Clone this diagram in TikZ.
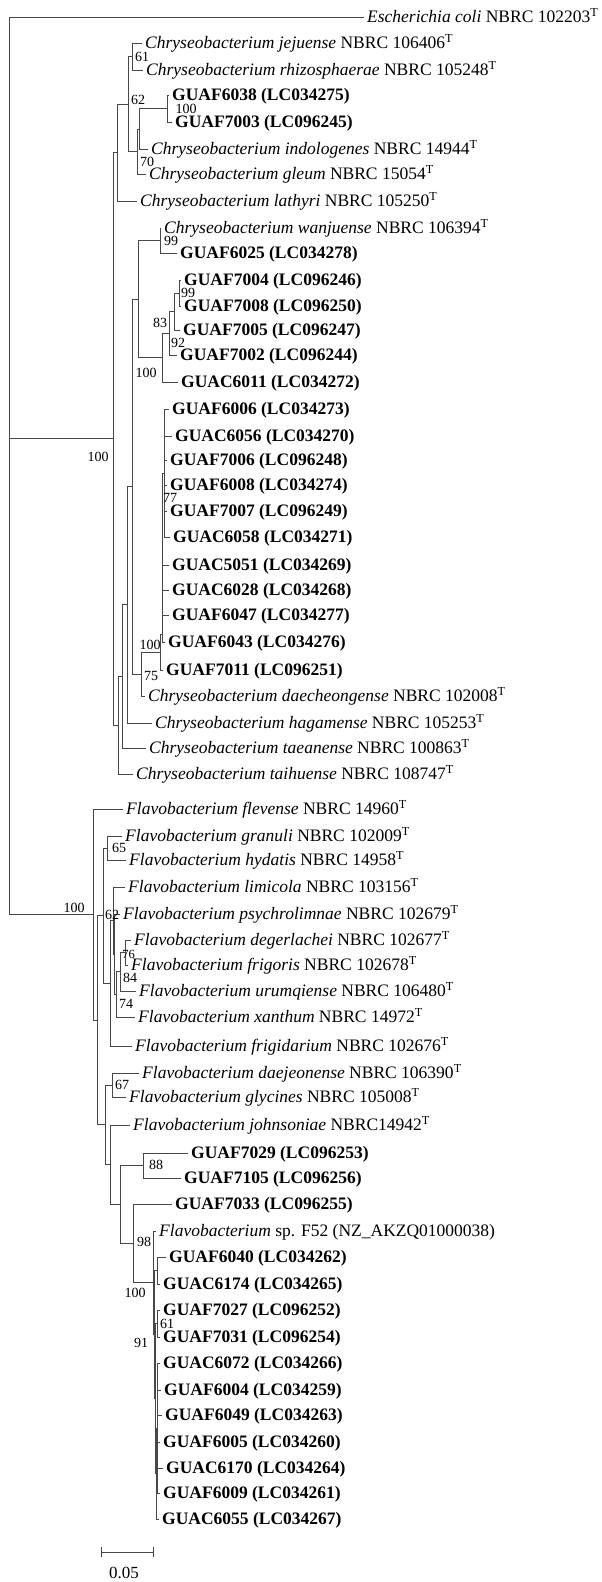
\documentclass[tikz,border=0pt]{standalone}
\usepackage{fontspec}
\setmainfont{Liberation Serif}
\newcommand\leafx[5]{%
  \coordinate (t#1) at (#3,#4);
  \node[lab] (l#1) at (t#1) {#5};
  \draw[br] (#2) |- (t#1);}
\newcommand\spn[1]{\textit{#1}}
\begin{document}
\begin{tikzpicture}[x=1pt,y=-1pt,
  br/.style={line width=0.9pt, draw=black!72},
  lab/.style={anchor=west, xshift=3pt, inner sep=0pt, font=\fontsize{17.5}{20}\selectfont, text height=12pt, text depth=1pt},
  bs/.style={inner sep=0pt, font=\fontsize{14}{16}\selectfont, text height=9.5pt, text depth=0pt}]
\useasboundingbox (0,0) rectangle (602,1582);
% root
\coordinate (R) at (9,466);
\leafx{ecoli}{R}{364}{17}{\spn{Escherichia coli} NBRC 102203\textsuperscript{T}}
\coordinate (C) at (113,438.8); \draw[br] (R) |- (C);
\coordinate (F) at (93,914.6); \draw[br] (R) |- (F);
% Chryseobacterium
\coordinate (C1) at (117,152.5); \draw[br] (C) |- (C1);
\coordinate (N62) at (128,104); \draw[br] (C1) |- (N62);
\coordinate (N61) at (132,56.5); \draw[br] (N62) |- (N61);
\leafx{jej}{N61}{142}{43}{\spn{Chryseobacterium jejuense} NBRC 106406\textsuperscript{T}}
\leafx{rhi}{N61}{143}{70}{\spn{Chryseobacterium rhizosphaerae} NBRC 105248\textsuperscript{T}}
\coordinate (Ng) at (137,151.5); \draw[br] (N62) |- (Ng);
\coordinate (Np) at (139,129); \draw[br] (Ng) |- (Np);
\coordinate (N100g) at (167,108.5); \draw[br] (Np) |- (N100g);
\leafx{g6038}{N100g}{169}{95}{\textbf{GUAF6038 (LC034275)}}
\leafx{g7003}{N100g}{172}{122}{\textbf{GUAF7003 (LC096245)}}
\leafx{ind}{Np}{148}{149}{\spn{Chryseobacterium indologenes} NBRC 14944\textsuperscript{T}}
\leafx{gle}{Ng}{146}{174}{\spn{Chryseobacterium gleum} NBRC 15054\textsuperscript{T}}
\leafx{lat}{C1}{137}{201}{\spn{Chryseobacterium lathyri} NBRC 105250\textsuperscript{T}}
\coordinate (T) at (118,725.2); \draw[br] (C) |- (T);
\coordinate (U) at (122,676.4); \draw[br] (T) |- (U);
\leafx{tai}{T}{133}{774}{\spn{Chryseobacterium taihuense} NBRC 108747\textsuperscript{T}}
\coordinate (Z) at (127,604.75); \draw[br] (U) |- (Z);
\leafx{tae}{U}{146}{748}{\spn{Chryseobacterium taeanense} NBRC 100863\textsuperscript{T}}
\coordinate (Y) at (132,486.5); \draw[br] (Z) |- (Y);
\leafx{hag}{Z}{152}{723}{\spn{Chryseobacterium hagamense} NBRC 105253\textsuperscript{T}}
\coordinate (X) at (138,299); \draw[br] (Y) |- (X);
\coordinate (V) at (141,674); \draw[br] (Y) |- (V);
\leafx{dae}{V}{145}{696}{\spn{Chryseobacterium daecheongense} NBRC 102008\textsuperscript{T}}
\coordinate (B) at (160,652); \draw[br] (V) |- (B);
\coordinate (Bp) at (162,634); \draw[br] (B) |- (Bp);
\leafx{g7011}{B}{163}{670}{\textbf{GUAF7011 (LC096251)}}
\coordinate (N77) at (164,473); \draw[br] (Bp) |- (N77);
\leafx{g6006}{N77}{169}{409}{\textbf{GUAF6006 (LC034273)}}
\leafx{c6056}{N77}{172}{436}{\textbf{GUAC6056 (LC034270)}}
\leafx{g7006}{N77}{167}{460}{\textbf{GUAF7006 (LC096248)}}
\leafx{g6008}{N77}{167}{485}{\textbf{GUAF6008 (LC034274)}}
\leafx{g7007}{N77}{167}{511}{\textbf{GUAF7007 (LC096249)}}
\leafx{c6058}{N77}{170}{537}{\textbf{GUAC6058 (LC034271)}}
\leafx{c5051}{Bp}{169}{565}{\textbf{GUAC5051 (LC034269)}}
\leafx{c6028}{Bp}{169}{590}{\textbf{GUAC6028 (LC034268)}}
\leafx{g6047}{Bp}{169}{615}{\textbf{GUAF6047 (LC034277)}}
\leafx{g6043}{Bp}{165}{642}{\textbf{GUAF6043 (LC034276)}}
\coordinate (W) at (160,240.5); \draw[br] (X) |- (W);
\leafx{wan}{W}{161}{228}{\spn{Chryseobacterium wanjuense} NBRC 106394\textsuperscript{T}}
\leafx{g6025}{W}{177}{253}{\textbf{GUAF6025 (LC034278)}}
\coordinate (N100b) at (162,357.6); \draw[br] (X) |- (N100b);
\coordinate (N83) at (169,333.25); \draw[br] (N100b) |- (N83);
\leafx{c6011}{N100b}{178}{382}{\textbf{GUAC6011 (LC034272)}}
\coordinate (N92) at (174,311.5); \draw[br] (N83) |- (N92);
\leafx{g7002}{N83}{177}{355}{\textbf{GUAF7002 (LC096244)}}
\coordinate (N99) at (179,293); \draw[br] (N92) |- (N99);
\leafx{g7005}{N92}{180}{330}{\textbf{GUAF7005 (LC096247)}}
\leafx{g7004}{N99}{181}{280}{\textbf{GUAF7004 (LC096246)}}
\leafx{g7008}{N99}{181}{306}{\textbf{GUAF7008 (LC096250)}}
% Flavobacterium
\coordinate (F2) at (97,1020.2); \draw[br] (F) |- (F2);
\leafx{fle}{F}{123}{809}{\spn{Flavobacterium flevense} NBRC 14960\textsuperscript{T}}
\coordinate (F3) at (103,915.6); \draw[br] (F2) |- (F3);
\coordinate (F4) at (105,1124.9); \draw[br] (F2) |- (F4);
\coordinate (N65) at (107,848); \draw[br] (F3) |- (N65);
\leafx{gra}{N65}{122}{836}{\spn{Flavobacterium granuli} NBRC 102009\textsuperscript{T}}
\leafx{hyd}{N65}{126}{860}{\spn{Flavobacterium hydatis} NBRC 14958\textsuperscript{T}}
\coordinate (Rr) at (110,983.3); \draw[br] (F3) |- (Rr);
\coordinate (Q) at (113,920.6); \draw[br] (Rr) |- (Q);
\leafx{frd}{Rr}{132}{1046}{\spn{Flavobacterium frigidarium} NBRC 102676\textsuperscript{T}}
\leafx{lim}{Q}{125}{887}{\spn{Flavobacterium limicola} NBRC 103156\textsuperscript{T}}
\coordinate (Q2) at (114.5,954.2); \draw[br] (Q) |- (Q2);
\leafx{psy}{Q2}{120}{914}{\spn{Flavobacterium psychrolimnae} NBRC 102679\textsuperscript{T}}
\coordinate (N74) at (116,994.4); \draw[br] (Q2) |- (N74);
\leafx{xan}{N74}{135}{1017}{\spn{Flavobacterium xanthum} NBRC 14972\textsuperscript{T}}
\coordinate (N84) at (120,971.75); \draw[br] (N74) |- (N84);
\leafx{uru}{N84}{136}{991}{\spn{Flavobacterium urumqiense} NBRC 106480\textsuperscript{T}}
\coordinate (N76) at (125,952.5); \draw[br] (N84) |- (N76);
\leafx{deg}{N76}{131}{940}{\spn{Flavobacterium degerlachei} NBRC 102677\textsuperscript{T}}
\leafx{fri}{N76}{128}{965}{\spn{Flavobacterium frigoris} NBRC 102678\textsuperscript{T}}
\coordinate (N67) at (112,1085); \draw[br] (F4) |- (N67);
\leafx{dje}{N67}{139}{1073}{\spn{Flavobacterium daejeonense} NBRC 106390\textsuperscript{T}}
\leafx{gly}{N67}{126}{1097}{\spn{Flavobacterium glycines} NBRC 105008\textsuperscript{T}}
\coordinate (F5) at (110,1164.7); \draw[br] (F4) |- (F5);
\leafx{joh}{F5}{130}{1125}{\spn{Flavobacterium johnsoniae} NBRC14942\textsuperscript{T}}
\coordinate (F6) at (120,1204.5); \draw[br] (F5) |- (F6);
\coordinate (N88) at (143,1165.5); \draw[br] (F6) |- (N88);
\leafx{g7029}{N88}{188}{1153}{\textbf{GUAF7029 (LC096253)}}
\leafx{g7105}{N88}{181}{1178}{\textbf{GUAF7105 (LC096256)}}
\coordinate (F7) at (133,1243.4); \draw[br] (F6) |- (F7);
\leafx{g7033}{F7}{172}{1204}{\textbf{GUAF7033 (LC096255)}}
\coordinate (N100c) at (153,1282.75); \draw[br] (F7) |- (N100c);
\leafx{f52}{N100c}{156}{1231}{\spn{Flavobacterium} sp. F52 (NZ\_AKZQ01000038)}
\coordinate (N91) at (154.5,1334.5); \draw[br] (N100c) |- (N91);
\coordinate (N6040) at (157,1270.5); \draw[br] (N91) |- (N6040);
\leafx{g6040}{N6040}{166}{1257}{\textbf{GUAF6040 (LC034262)}}
\leafx{c6174}{N6040}{160}{1284}{\textbf{GUAC6174 (LC034265)}}
\coordinate (L) at (155.5,1398.5); \draw[br] (N91) |- (L);
\coordinate (N61b) at (157,1323.5); \draw[br] (L) |- (N61b);
\leafx{g7027}{N61b}{160}{1310}{\textbf{GUAF7027 (LC096252)}}
\leafx{g7031}{N61b}{160}{1337}{\textbf{GUAF7031 (LC096254)}}
\coordinate (L2) at (156,1473.5); \draw[br] (L) |- (L2);
\coordinate (L3) at (157.5,1428); \draw[br] (L2) |- (L3);
\leafx{c6072}{L3}{160}{1363}{\textbf{GUAC6072 (LC034266)}}
\leafx{g6004}{L3}{161}{1390}{\textbf{GUAF6004 (LC034259)}}
\leafx{g6049}{L3}{162}{1415}{\textbf{GUAF6049 (LC034263)}}
\leafx{g6005}{L3}{160}{1442}{\textbf{GUAF6005 (LC034260)}}
\leafx{c6170}{L3}{163}{1468}{\textbf{GUAC6170 (LC034264)}}
\leafx{g6009}{L3}{160}{1493}{\textbf{GUAF6009 (LC034261)}}
\leafx{c6055}{L2}{159}{1519}{\textbf{GUAC6055 (LC034267)}}
% bootstrap values
\node[bs] (b1) at (142,57) {61};
\node[bs] (b2) at (138,100) {62};
\node[bs] (b3) at (186,108.5) {100};
\node[bs] (b4) at (147,162) {70};
\node[bs] (b5) at (171,241) {99};
\node[bs] (b6) at (188,293) {99};
\node[bs] (b7) at (160,323) {83};
\node[bs] (b8) at (178,342.5) {92};
\node[bs] (b9) at (146,373) {100};
\node[bs] (b10) at (98,457) {100};
\node[bs] (b11) at (170,498) {77};
\node[bs] (b12) at (150,645) {100};
\node[bs] (b13) at (151,676) {75};
\node[bs] (b14) at (74,908) {100};
\node[bs] (b15) at (119,848) {65};
\node[bs] (b16) at (112,915) {62};
\node[bs, font=\fontsize{12.5}{14}\selectfont, text height=8.5pt] (b17) at (128.5,954) {76};
\node[bs] (b18) at (130,978) {84};
\node[bs] (b19) at (126,1004) {74};
\node[bs] (b20) at (122,1085) {67};
\node[bs] (b21) at (156,1165) {88};
\node[bs] (b22) at (144,1242) {98};
\node[bs] (b23) at (135,1293) {100};
\node[bs] (b24) at (167,1323.5) {61};
\node[bs] (b25) at (141,1343) {91};
% scale bar
\coordinate (s1) at (101,1552);
\coordinate (s2) at (153,1552);
\draw[br] (s1) -- (s2);
\draw[br] ([yshift=5pt]s1) -- ([yshift=-5pt]s1);
\draw[br] ([yshift=5pt]s2) -- ([yshift=-5pt]s2);
\node[inner sep=0pt, font=\fontsize{17}{19}\selectfont] (sbl) at (124,1573) {0.05};
\end{tikzpicture}
\end{document}
